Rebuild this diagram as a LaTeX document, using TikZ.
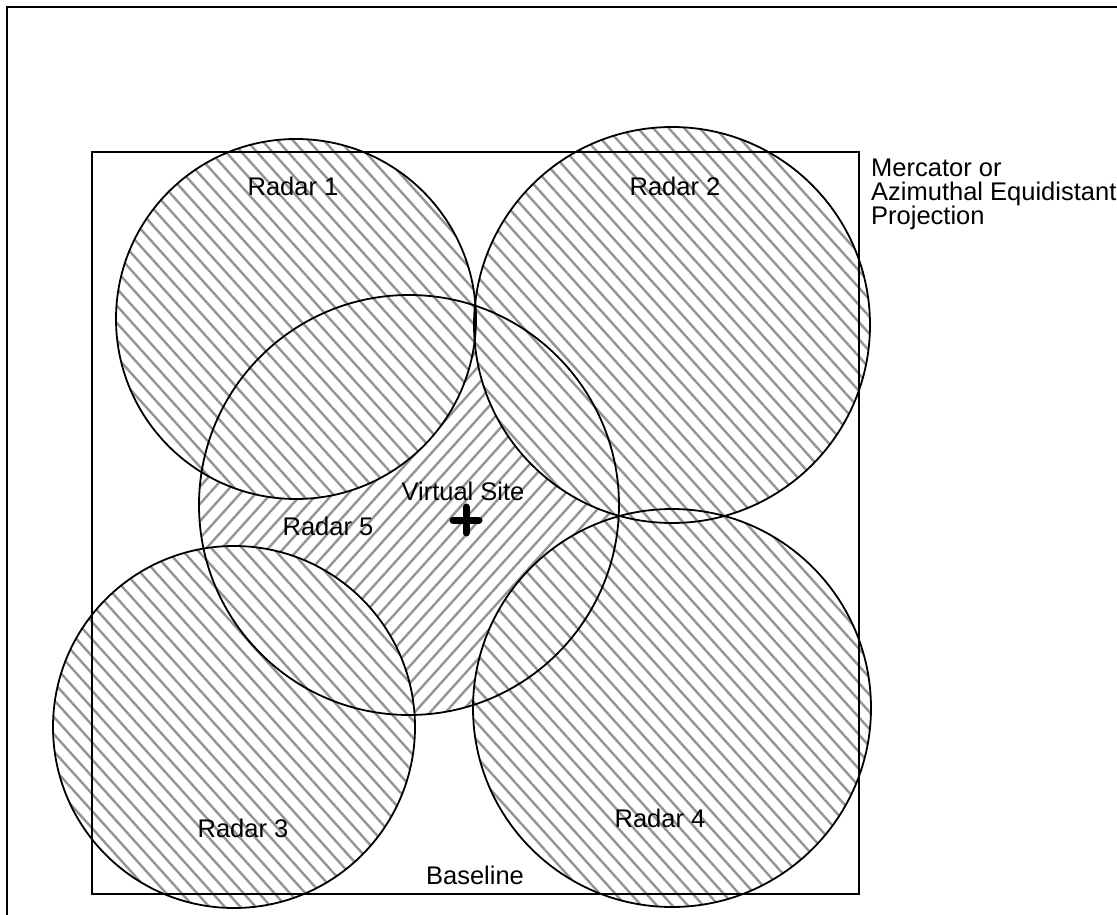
\documentclass[tikz,border=0pt]{standalone}
\usepackage{fontspec}
\setmainfont{Liberation Sans}
\usetikzlibrary{patterns.meta}
\tikzset{
  hatchA/.style={pattern={Lines[angle=-48,distance=11.5pt,line width=2.4pt]},pattern color=black!42},
  hatchB/.style={pattern={Lines[angle=48,distance=11.5pt,line width=2.4pt]},pattern color=black!42},
  ring/.style={draw=black,line width=1.8pt},
  lbl/.style={font=\fontsize{25.5}{24}\selectfont,inner sep=0pt,text=black},
}
\begin{document}
\begin{tikzpicture}[x=1pt,y=-1pt]
\useasboundingbox (0,0) rectangle (1117,915);
\path[fill=white] (0,0) rectangle (1117,915);
% coordinates of radar centres
\coordinate (c1) at (296,319);
\coordinate (c2) at (672,325);
\coordinate (c3) at (234,727);
\coordinate (c4) at (672,708);
\coordinate (c5) at (409,505);
% radar 5 coverage (drawn first)
\path[hatchB] (c5) circle[radius=210];
% radars 1-4 coverage on top
\foreach \c/\r in {c1/180,c2/198,c3/181,c4/199}{
  \path[fill=white] (\c) circle[radius=\r];
  \path[hatchA] (\c) circle[radius=\r];
}
% frames
\draw[line width=2.6pt] (7,930) -- (7,7) -- (1130,7);
\node[draw,line width=1.8pt,minimum width=767pt,minimum height=742pt,inner sep=0pt,anchor=north west] (proj) at (91,151) {};
% outlines
\draw[ring] (c5) circle[radius=210];
\draw[ring] (c1) circle[radius=180];
\draw[ring] (c2) circle[radius=198];
\draw[ring] (c3) circle[radius=181];
\draw[ring] (c4) circle[radius=199];
% virtual site cross
\coordinate (vs) at (466,520);
\draw[line width=7pt,line cap=round] ([xshift=-13pt]vs) -- ([xshift=13pt]vs);
\draw[line width=7pt,line cap=round] ([yshift=-13pt]vs) -- ([yshift=13pt]vs);
% labels
\node[lbl] (l1) at (293,186) {Radar 1};
\node[lbl] (l2) at (675,186) {Radar 2};
\node[lbl] (l5) at (328,526) {Radar 5};
\node[lbl] (lv) at (463,491) {Virtual Site};
\node[lbl] (l3) at (243,828) {Radar 3};
\node[lbl] (l4) at (660,818) {Radar 4};
\node[lbl] (lb) at (475,875) {Baseline};
\node[lbl,align=left,anchor=north west] (lm) at (871,159) {Mercator or\\Azimuthal Equidistant\\Projection};
\end{tikzpicture}
\end{document}
